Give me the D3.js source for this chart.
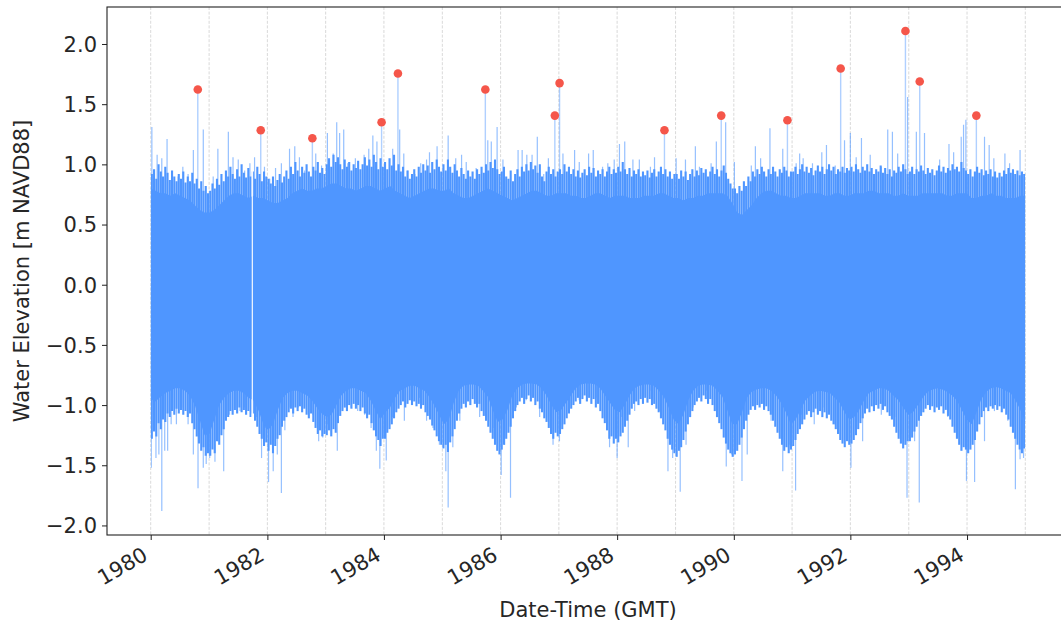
<!DOCTYPE html>
<html>
<head>
<meta charset="utf-8">
<script src="https://cdn.jsdelivr.net/npm/d3@7"></script>
<style>
  body { margin: 0; background: #fff; }
  svg { display: block; }
  text { font-family: "DejaVu Sans", sans-serif; }
</style>
</head>
<body>
<svg id="chart" width="1061" height="623"></svg>
<script>
// Record span (decimal years)
const recordStart = 1980.0;
const recordEnd = 1995.0;

// Monthly core band of the dense water-level record (m NAVD88), Jan 1980 .. Dec 1994
const monthlyHigh = [
  .80,.78,.76,.76,.74,.76,.74,.72,.70,.66,.62,.60,
  .60,.62,.66,.70,.74,.76,.76,.74,.72,.74,.72,.72,
  .70,.68,.68,.70,.72,.76,.78,.80,.78,.78,.80,.80,
  .82,.84,.84,.82,.80,.80,.78,.80,.82,.82,.80,.78,
  .80,.82,.78,.76,.74,.72,.74,.76,.78,.80,.80,.78,
  .78,.80,.76,.74,.72,.72,.74,.76,.78,.80,.78,.76,
  .74,.72,.70,.72,.74,.76,.78,.78,.76,.74,.74,.76,
  .76,.76,.74,.74,.72,.72,.74,.76,.76,.74,.72,.74,
  .74,.74,.72,.72,.72,.74,.74,.74,.76,.76,.74,.72,
  .72,.70,.72,.72,.74,.74,.76,.76,.76,.76,.74,.68,
  .60,.58,.62,.66,.72,.76,.78,.78,.76,.74,.74,.72,
  .72,.74,.76,.76,.76,.76,.74,.74,.76,.76,.74,.74,
  .76,.76,.76,.78,.78,.76,.76,.76,.74,.74,.76,.74,
  .74,.74,.76,.76,.76,.76,.76,.74,.74,.76,.76,.76,
  .72,.72,.74,.74,.76,.74,.74,.72,.72,.72,.74,.74
];
const monthlyLow = [
  -0.95,-0.97,-0.93,-0.90,-0.88,-0.86,-0.86,-0.88,-0.92,-1.00,-1.12,-1.25,
  -1.24,-1.12,-1.00,-0.94,-0.90,-0.88,-0.88,-0.90,-0.94,-0.96,-1.04,-1.15,
  -1.21,-1.16,-1.04,-0.94,-0.90,-0.88,-0.88,-0.90,-0.92,-0.96,-1.02,-1.07,
  -1.10,-1.08,-1.00,-0.92,-0.88,-0.86,-0.86,-0.88,-0.90,-0.96,-1.04,-1.12,
  -1.06,-1.02,-0.94,-0.88,-0.86,-0.84,-0.84,-0.86,-0.88,-0.93,-1.00,-1.08,
  -1.16,-1.12,-0.98,-0.88,-0.84,-0.83,-0.83,-0.84,-0.88,-0.93,-1.04,-1.14,
  -1.12,-1.04,-0.92,-0.86,-0.83,-0.82,-0.82,-0.83,-0.86,-0.92,-1.00,-1.06,
  -1.04,-0.98,-0.92,-0.86,-0.83,-0.82,-0.82,-0.83,-0.86,-0.92,-0.98,-1.04,
  -1.06,-1.00,-0.92,-0.86,-0.84,-0.83,-0.83,-0.84,-0.88,-0.93,-1.02,-1.12,
  -1.16,-1.08,-0.96,-0.88,-0.84,-0.83,-0.83,-0.84,-0.88,-0.93,-1.04,-1.16,
  -1.16,-1.06,-0.94,-0.89,-0.87,-0.86,-0.86,-0.88,-0.92,-0.98,-1.06,-1.16,
  -1.12,-1.04,-0.96,-0.92,-0.89,-0.88,-0.89,-0.90,-0.94,-0.98,-1.06,-1.12,
  -1.10,-1.04,-0.96,-0.90,-0.88,-0.86,-0.86,-0.88,-0.92,-0.96,-1.02,-1.08,
  -1.06,-1.00,-0.94,-0.89,-0.87,-0.86,-0.87,-0.89,-0.92,-0.96,-1.04,-1.12,
  -1.16,-1.06,-0.95,-0.89,-0.86,-0.85,-0.86,-0.88,-0.90,-0.96,-1.04,-1.14
];

// Fortnightly (spring-tide) highs and lows, 26 per year, 1980 .. 1994
const fortnightHigh = [
  .92,.96,.88,1.00,.94,.90,.98,.93,.87,.95,.90,.86,.92,.88,.94,.85,.90,.86,.93,.84,.88,.80,.86,.78,.82,.76,
  .78,.84,.80,.88,.83,.92,.86,.95,.90,.98,.92,.88,.96,.90,1.00,.93,.89,.97,.90,.94,.88,.98,.92,.86,.94,.90,
  .88,.84,.90,.82,.87,.92,.85,.90,.95,.88,.98,.92,1.02,.95,.90,.98,.93,1.00,.94,.90,.98,.95,1.02,.93,.97,.92,
  1.00,1.05,.98,1.08,1.02,1.06,1.00,.96,1.04,.98,1.02,.95,1.00,.97,1.03,.96,1.00,1.06,.99,1.04,.98,1.08,1.02,.96,1.05,.98,
  1.02,.96,1.05,.99,1.08,.95,1.00,.94,.98,.90,.95,.88,.92,.96,.90,.98,.93,1.00,.95,.99,.93,1.02,.96,1.04,.98,.94,
  1.00,.95,1.04,.98,.93,1.00,.95,.90,.97,.92,.88,.95,.90,.94,.88,.96,.92,.98,.93,1.00,.95,1.02,.97,1.04,.96,.92,
  .94,.98,.90,.88,.95,.86,.92,.96,.90,.98,.94,1.00,.95,1.02,.96,.99,.93,1.00,.90,.86,.94,.98,.92,.96,.90,.94,
  .96,.92,1.00,.94,.98,.92,.96,.90,.95,.89,.93,.96,.91,.98,.93,.97,.90,.95,.92,.96,.90,.94,.98,.92,.96,.93,
  .98,.94,1.02,.96,.92,.97,.90,.95,.92,.96,.90,.94,.91,.95,.89,.93,.96,.90,.94,.98,.92,.96,.90,.94,.88,.92,
  .92,.88,.95,.90,.94,.87,.92,.96,.90,.95,.91,.97,.93,.96,.90,.94,.98,.92,.96,.90,.95,.99,.93,.88,.84,.80,
  .80,.76,.82,.78,.86,.82,.90,.86,.94,.90,.96,.92,.98,.94,.90,.96,.92,.98,.94,.90,.96,.93,.98,.95,.90,.94,
  .94,.98,.92,.96,1.00,.94,.98,.93,.97,.91,.95,.99,.94,.98,.92,.96,1.00,.95,.98,.92,.96,.94,.98,.93,.97,.95,
  .98,.94,1.00,.96,.93,.98,.95,1.00,.94,.97,.92,.96,.94,.99,.93,.97,.92,.96,.90,.95,.93,.98,.94,1.00,.96,.92,
  .94,.98,.92,.96,.94,.99,.95,.92,.97,.93,.96,.91,.95,.99,.94,.98,.93,.97,.95,1.00,.96,.98,.94,1.02,.97,.95,
  .92,.96,.90,.94,.98,.93,.96,.91,.95,.92,.96,.90,.94,.89,.93,.90,.95,.92,.97,.93,.96,.92,.95,.91,.94,.92
];
const fortnightLow = [
  -1.28,-1.22,-1.26,-1.15,-1.20,-1.12,-1.14,-1.07,-1.10,-1.05,-1.08,-1.03,-1.07,-1.04,-1.08,-1.05,-1.10,-1.07,-1.15,-1.20,-1.26,-1.32,-1.38,-1.35,-1.42,-1.40,
  -1.42,-1.37,-1.40,-1.30,-1.33,-1.25,-1.20,-1.13,-1.10,-1.05,-1.08,-1.04,-1.07,-1.02,-1.06,-1.04,-1.08,-1.05,-1.10,-1.07,-1.13,-1.18,-1.24,-1.28,-1.34,-1.31,
  -1.38,-1.33,-1.40,-1.34,-1.28,-1.25,-1.18,-1.13,-1.10,-1.06,-1.03,-1.07,-1.02,-1.05,-1.01,-1.06,-1.03,-1.08,-1.11,-1.07,-1.14,-1.19,-1.24,-1.21,-1.26,-1.24,
  -1.25,-1.21,-1.26,-1.20,-1.23,-1.15,-1.09,-1.05,-1.02,-1.05,-1.00,-1.03,-0.99,-1.03,-1.00,-1.05,-1.02,-1.07,-1.11,-1.08,-1.15,-1.21,-1.26,-1.29,-1.34,-1.28,
  -1.28,-1.23,-1.20,-1.16,-1.11,-1.06,-1.03,-1.00,-0.97,-1.02,-0.99,-0.96,-1.00,-0.97,-1.01,-0.99,-1.03,-1.00,-1.06,-1.09,-1.12,-1.17,-1.21,-1.26,-1.30,-1.33,
  -1.36,-1.33,-1.39,-1.31,-1.26,-1.20,-1.13,-1.07,-1.03,-0.99,-1.02,-0.97,-1.00,-0.95,-0.99,-1.02,-0.99,-1.05,-1.09,-1.13,-1.18,-1.23,-1.28,-1.33,-1.38,-1.41,
  -1.37,-1.33,-1.28,-1.23,-1.18,-1.11,-1.05,-1.00,-0.97,-0.94,-0.99,-0.95,-0.92,-0.97,-0.94,-1.00,-0.97,-1.03,-1.06,-1.11,-1.14,-1.19,-1.24,-1.28,-1.23,-1.26,
  -1.24,-1.20,-1.16,-1.11,-1.07,-1.03,-1.00,-0.97,-0.94,-0.99,-0.95,-0.92,-0.97,-0.94,-0.99,-0.95,-1.02,-0.99,-1.05,-1.11,-1.15,-1.21,-1.28,-1.26,-1.32,-1.28,
  -1.31,-1.26,-1.23,-1.18,-1.13,-1.08,-1.03,-0.99,-0.97,-1.00,-0.95,-0.99,-0.94,-0.98,-0.95,-1.00,-0.99,-1.03,-1.06,-1.11,-1.16,-1.21,-1.28,-1.33,-1.37,-1.40,
  -1.43,-1.38,-1.35,-1.29,-1.22,-1.16,-1.10,-1.05,-1.00,-0.97,-0.94,-0.97,-0.92,-0.95,-0.99,-0.95,-1.00,-1.05,-1.10,-1.15,-1.20,-1.27,-1.32,-1.37,-1.40,-1.43,
  -1.41,-1.38,-1.33,-1.27,-1.20,-1.13,-1.08,-1.04,-1.01,-1.04,-1.00,-1.02,-0.99,-1.04,-1.01,-1.05,-1.08,-1.13,-1.18,-1.23,-1.28,-1.33,-1.38,-1.35,-1.40,-1.37,
  -1.34,-1.29,-1.24,-1.20,-1.16,-1.12,-1.08,-1.05,-1.10,-1.06,-1.03,-1.08,-1.05,-1.10,-1.06,-1.11,-1.08,-1.13,-1.16,-1.20,-1.24,-1.29,-1.32,-1.35,-1.30,-1.33,
  -1.32,-1.29,-1.25,-1.20,-1.15,-1.11,-1.07,-1.03,-1.06,-1.01,-1.05,-1.00,-1.03,-0.99,-1.04,-1.01,-1.06,-1.09,-1.12,-1.18,-1.23,-1.28,-1.32,-1.36,-1.33,-1.30,
  -1.30,-1.27,-1.22,-1.18,-1.13,-1.09,-1.06,-1.03,-1.00,-1.04,-1.01,-1.06,-1.02,-1.04,-1.01,-1.07,-1.04,-1.09,-1.12,-1.18,-1.23,-1.28,-1.33,-1.38,-1.35,-1.37,
  -1.40,-1.37,-1.33,-1.29,-1.22,-1.16,-1.10,-1.05,-1.02,-1.05,-1.01,-1.03,-1.00,-1.04,-1.01,-1.06,-1.03,-1.08,-1.12,-1.18,-1.23,-1.28,-1.33,-1.37,-1.40,-1.36
];

// Short-lived high-water excursions [decimal year, m]
const highSpikes = [
  [1980.02,1.31],[1980.11,1.08],[1980.19,1.05],[1980.28,1.21],[1980.47,0.90],[1980.55,0.98],
  [1980.64,0.92],[1980.73,1.12],[1980.90,1.29],[1981.07,0.90],[1981.15,1.13],[1981.33,1.27],
  [1981.41,1.06],[1981.50,1.04],[1981.61,0.95],[1981.70,1.01],[1981.78,1.06],[1981.95,0.98],
  [1982.04,0.88],[1982.14,0.97],[1982.24,1.01],[1982.38,1.13],[1982.47,1.15],[1982.55,1.06],
  [1982.64,0.95],[1982.83,1.09],[1982.93,0.99],[1983.03,1.26],[1983.13,1.09],[1983.19,1.35],
  [1983.24,1.26],[1983.31,1.29],[1983.38,1.01],[1983.51,1.05],[1983.66,1.08],[1983.74,1.13],
  [1983.81,1.24],[1983.88,1.19],[1984.01,0.98],[1984.15,1.13],[1984.27,1.29],[1984.34,1.09],
  [1984.41,0.95],[1984.53,0.92],[1984.63,1.01],[1984.73,1.04],[1984.78,1.10],[1984.91,1.15],
  [1985.10,1.24],[1985.23,1.05],[1985.33,1.08],[1985.41,1.02],[1985.58,0.97],[1985.78,1.20],
  [1985.84,1.19],[1985.94,1.31],[1986.04,1.04],[1986.30,1.12],[1986.37,1.12],[1986.45,1.08],
  [1986.54,1.08],[1986.63,1.23],[1986.74,0.92],[1986.82,1.05],[1987.07,1.09],[1987.27,1.12],
  [1987.35,1.02],[1987.51,1.09],[1987.59,1.12],[1987.75,0.98],[1987.84,1.01],[1987.95,1.04],
  [1988.04,1.17],[1988.13,1.19],[1988.27,1.04],[1988.38,1.04],[1988.57,0.98],[1988.64,1.06],
  [1989.01,1.05],[1989.17,1.04],[1989.34,1.15],[1989.41,0.98],[1989.61,1.01],[1989.70,1.19],
  [1989.86,1.35],[1990.01,1.02],[1990.30,0.99],[1990.37,1.15],[1990.46,1.05],[1990.62,1.30],
  [1990.84,1.13],[1991.07,1.01],[1991.13,1.09],[1991.19,1.05],[1991.35,1.01],[1991.51,1.10],
  [1991.59,1.16],[1991.74,0.99],[1991.90,1.20],[1992.00,1.26],[1992.10,1.06],[1992.19,1.22],
  [1992.34,1.08],[1992.53,0.98],[1992.64,1.29],[1992.72,1.27],[1992.81,1.09],[1992.98,1.56],
  [1993.13,1.27],[1993.27,1.26],[1993.53,1.04],[1993.69,1.17],[1993.77,1.10],[1993.90,1.23],
  [1993.94,1.33],[1993.98,1.37],[1994.30,1.23],[1994.38,1.16],[1994.46,1.05],[1994.65,1.09],
  [1994.73,1.01],[1994.91,1.12]
];

// Short-lived low-water excursions [decimal year, m]
const lowSpikes = [
  [1980.01,-1.52],[1980.09,-1.44],[1980.14,-1.41],[1980.19,-1.88],[1980.24,-1.38],[1980.29,-1.38],
  [1980.35,-1.16],[1980.44,-1.16],[1980.53,-1.02],[1980.64,-1.16],[1980.73,-1.41],[1980.81,-1.69],
  [1980.90,-1.52],[1980.95,-1.49],[1981.01,-1.44],[1981.10,-1.47],[1981.15,-1.30],[1981.25,-1.55],
  [1981.35,-1.08],[1981.44,-1.02],[1981.53,-1.05],[1981.61,-1.02],[1981.81,-1.10],[1981.90,-1.44],
  [1981.97,-1.19],[1982.02,-1.64],[1982.10,-1.55],[1982.17,-1.41],[1982.24,-1.73],[1982.30,-1.21],
  [1982.37,-1.02],[1982.44,-1.10],[1982.53,-1.02],[1982.67,-1.02],[1982.78,-1.08],[1982.88,-1.30],
  [1982.95,-1.27],[1983.03,-1.16],[1983.10,-1.24],[1983.20,-1.38],[1983.33,-1.02],[1983.44,-1.02],
  [1983.55,-1.05],[1983.67,-1.08],[1983.78,-1.19],[1983.87,-1.38],[1983.93,-1.53],[1984.04,-1.46],
  [1984.15,-1.10],[1984.35,-1.13],[1984.47,-0.96],[1984.61,-0.94],[1984.73,-1.13],[1984.84,-1.19],
  [1984.95,-1.33],[1985.06,-1.55],[1985.10,-1.85],[1985.18,-1.35],[1985.30,-1.13],[1985.44,-0.96],
  [1985.64,-1.10],[1985.75,-1.13],[1985.87,-1.19],[1986.01,-1.58],[1986.07,-1.33],[1986.17,-1.77],
  [1986.27,-1.02],[1986.44,-0.96],[1986.67,-1.10],[1986.79,-1.13],[1986.90,-1.33],[1987.01,-1.30],
  [1987.15,-0.96],[1987.35,-0.96],[1987.64,-0.94],[1987.75,-1.10],[1987.87,-1.35],[1988.00,-1.44],
  [1988.07,-1.10],[1988.19,-1.35],[1988.30,-1.05],[1988.56,-0.88],[1988.73,-1.05],[1988.87,-1.55],
  [1988.95,-1.44],[1989.08,-1.72],[1989.18,-1.33],[1989.30,-1.02],[1989.53,-0.88],[1989.75,-1.10],
  [1989.87,-1.51],[1989.96,-1.41],[1990.14,-1.63],[1990.23,-1.41],[1990.47,-0.99],[1990.64,-1.13],
  [1990.84,-1.55],[1990.95,-1.33],[1991.06,-1.71],[1991.16,-1.08],[1991.38,-1.16],[1991.55,-1.02],
  [1991.73,-1.16],[1991.90,-1.30],[1992.01,-1.52],[1992.21,-1.30],[1992.53,-1.08],[1992.76,-1.10],
  [1992.87,-1.24],[1992.97,-1.77],[1993.10,-1.30],[1993.18,-1.81],[1993.44,-1.05],[1993.67,-1.10],
  [1993.84,-1.27],[1993.99,-1.63],[1994.13,-1.64],[1994.30,-1.30],[1994.47,-1.05],[1994.70,-1.13],
  [1994.83,-1.70],[1994.91,-1.45],[1994.97,-1.44]
];

// Annual maximum water levels
const maxTimes  = [1980.806,1981.886,1982.772,1983.960,1984.240,1985.738,1986.931,1987.012,
                   1988.810,1989.784,1990.920,1991.834,1992.943,1993.188,1994.160];
const maxValues = [1.622,1.283,1.217,1.350,1.755,1.622,1.405,1.675,
                   1.283,1.405,1.367,1.797,2.108,1.688,1.405];

// Missing data interval
const gaps = [[1981.728, 1981.752]];

const yTicks = [-2.0,-1.5,-1.0,-0.5,0.0,0.5,1.0,1.5,2.0];

// ---- helpers ----
function toDate(t) {
  const yr = Math.floor(t);
  const a = Date.UTC(yr, 0, 1), b = Date.UTC(yr + 1, 0, 1);
  return new Date(a + (t - yr) * (b - a));
}

const plot = { left: 107, top: 7, right: 1069, bottom: 535 };
const BLUE = "#4f96ff";

const svg = d3.select("#chart");

// x: data span plus 5% margin each side
const span = recordEnd - recordStart;
const x = d3.scaleUtc()
  .domain([toDate(recordStart - 0.05 * span), toDate(recordEnd + 0.05 * span)])
  .range([plot.left, plot.right]);

const allVals = monthlyHigh.concat(monthlyLow, fortnightHigh, fortnightLow,
  highSpikes.map(d => d[1]), lowSpikes.map(d => d[1]), maxValues);
const [vMin, vMax] = d3.extent(allVals);
const vPad = 0.05 * (vMax - vMin);
const y = d3.scaleLinear().domain([vMin - vPad, vMax + vPad]).range([plot.bottom, plot.top]);

// clip regions: plot area, and plot area minus missing-data intervals
const defs = svg.append("defs");
defs.append("clipPath").attr("id", "plotClip")
  .append("rect").attr("x", plot.left).attr("y", plot.top)
  .attr("width", plot.right - plot.left).attr("height", plot.bottom - plot.top);

const segBounds = [recordStart];
gaps.forEach(g => { segBounds.push(g[0]); segBounds.push(g[1]); });
segBounds.push(recordEnd);
const clipData = defs.append("clipPath").attr("id", "dataClip");
for (let i = 0; i < segBounds.length; i += 2) {
  const x0 = x(toDate(segBounds[i])), x1 = x(toDate(segBounds[i + 1]));
  clipData.append("rect").attr("x", x0).attr("y", plot.top)
    .attr("width", x1 - x0).attr("height", plot.bottom - plot.top);
}

// yearly vertical grid
svg.append("g").attr("clip-path", "url(#plotClip)")
  .selectAll("line")
  .data(d3.utcYear.range(toDate(recordStart), toDate(recordEnd + 0.01)))
  .join("line")
  .attr("x1", d => x(d)).attr("x2", d => x(d))
  .attr("y1", plot.top).attr("y2", plot.bottom)
  .attr("stroke", "#cfcfcf").attr("stroke-width", 0.8)
  .attr("stroke-dasharray", "3,1.6");

// series
const dataG = svg.append("g").attr("clip-path", "url(#dataClip)");

function stems(g, pts, width, opacity) {
  g.append("g").selectAll("line")
    .data(pts)
    .join("line")
    .attr("x1", d => x(toDate(d[0]))).attr("x2", d => x(toDate(d[0])))
    .attr("y1", y(0)).attr("y2", d => y(d[1]))
    .attr("stroke", BLUE).attr("stroke-width", width).attr("stroke-opacity", opacity);
}

const maxima = maxTimes.map((t, i) => [t, maxValues[i]]);
stems(dataG, highSpikes.concat(lowSpikes), 1.2, 0.6);
stems(dataG, maxima, 1.4, 0.45);

// spring-tide envelope drawn as adjoining stems
const perYear = 26;
const fortnightPts = [];
fortnightHigh.forEach((v, i) => {
  const t = recordStart + Math.floor(i / perYear) + ((i % perYear) + 0.5) / perYear;
  fortnightPts.push([t, v]);
  fortnightPts.push([t, fortnightLow[i]]);
});
stems(dataG, fortnightPts, 2.1, 1);

const n = monthlyHigh.length;
const body = monthlyHigh.map((h, i) => ({
  t: recordStart + i * span / (n - 1), hi: h, lo: monthlyLow[i]
}));
dataG.append("path")
  .datum(body)
  .attr("fill", BLUE)
  .attr("d", d3.area()
    .x(d => x(toDate(d.t)))
    .y0(d => y(d.lo))
    .y1(d => y(d.hi))
    .curve(d3.curveLinear));

// annual maxima markers
svg.append("g").selectAll("circle")
  .data(maxima)
  .join("circle")
  .attr("cx", d => x(toDate(d[0])))
  .attr("cy", d => y(d[1]))
  .attr("r", 4.3)
  .attr("fill", "#f5564a");

// axes
const FS = 21;
const xAxis = d3.axisBottom(x)
  .ticks(d3.utcYear.every(2))
  .tickFormat(d3.utcFormat("%Y"))
  .tickSize(5).tickSizeOuter(0);
const gx = svg.append("g").attr("transform", `translate(0,${plot.bottom})`).call(xAxis);
gx.selectAll(".tick line").attr("stroke", "#222").attr("stroke-width", 1);
gx.selectAll(".tick text")
  .attr("fill", "#262626").attr("font-size", FS)
  .attr("text-anchor", "end")
  .attr("x", 0).attr("y", 0).attr("dy", 0)
  .attr("transform", "translate(-2,24) rotate(-30)");
gx.select(".domain").remove();

const yAxis = d3.axisLeft(y)
  .tickValues(yTicks)
  .tickFormat(d3.format(".1f"))
  .tickSize(5).tickPadding(5).tickSizeOuter(0);
const gy = svg.append("g").attr("transform", `translate(${plot.left},0)`).call(yAxis);
gy.selectAll(".tick line").attr("stroke", "#222").attr("stroke-width", 1);
gy.selectAll(".tick text").attr("fill", "#262626").attr("font-size", FS).attr("dy", "0.35em");
gy.select(".domain").remove();

// frame
svg.append("rect")
  .attr("x", plot.left).attr("y", plot.top)
  .attr("width", plot.right - plot.left).attr("height", plot.bottom - plot.top)
  .attr("fill", "none").attr("stroke", "#222").attr("stroke-width", 1.1);

// axis labels
svg.append("text")
  .attr("x", (plot.left + plot.right) / 2).attr("y", 617)
  .attr("text-anchor", "middle").attr("font-size", FS).attr("fill", "#262626")
  .text("Date-Time (GMT)");
svg.append("text")
  .attr("transform", `translate(29,${(plot.top + plot.bottom) / 2}) rotate(-90)`)
  .attr("text-anchor", "middle").attr("font-size", FS).attr("fill", "#262626")
  .text("Water Elevation [m NAVD88]");
</script>
</body>
</html>
